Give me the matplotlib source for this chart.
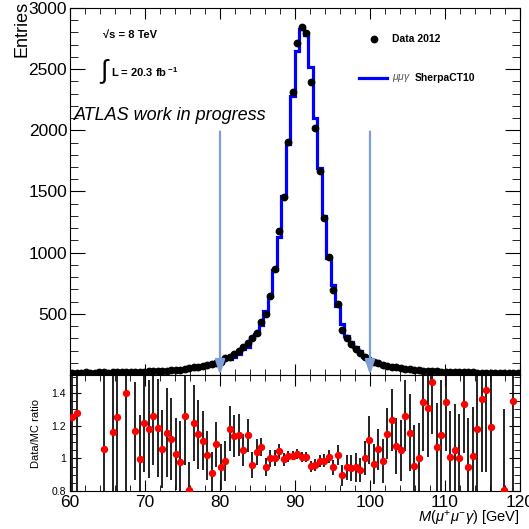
import numpy as np
import matplotlib
matplotlib.use('Agg')
import matplotlib.pyplot as plt
from matplotlib.ticker import MultipleLocator

plt.rcParams['font.family'] = ['Liberation Sans', 'DejaVu Sans']
plt.rcParams['mathtext.fontset'] = 'custom'
plt.rcParams['mathtext.rm'] = 'Liberation Sans'
plt.rcParams['mathtext.it'] = 'Liberation Sans:italic'
plt.rcParams['mathtext.bf'] = 'Liberation Sans:bold'

# 100 bins of 0.6 GeV between 60 and 120 GeV
mass_lo, mass_hi, nbins = 60.0, 120.0, 100

data_2012 = [18, 20, 19, 21, 20, 19, 22, 21, 20, 22,
             23, 22, 25, 24, 27, 26, 28, 30, 29, 33,
             35, 34, 38, 40, 45, 50, 55, 62, 68, 74,
             80, 88, 95, 110, 135, 150, 170, 195, 225, 259,
             300, 346, 436, 499, 646, 864, 1180, 1458, 1908, 2317,
             2712, 2848, 2794, 2398, 2017, 1671, 1281, 968, 695, 578,
             370, 300, 255, 215, 180, 150, 123, 109, 95, 85,
             76, 68, 62, 56, 52, 47, 42, 39, 36, 34,
             31, 29, 27, 26, 25, 24, 23, 22, 21, 21,
             20, 20, 19, 19, 19, 18, 18, 18, 18, 18]

sherpa_mc = [15, 16, 19, 21, 20, 19, 22, 20, 20, 19,
             18, 22, 18, 24, 23, 26, 23, 25, 23, 28,
             33, 29, 34, 39, 46, 40, 68, 51, 59, 67,
             78, 96, 88, 116, 137, 127, 150, 171, 214, 227,
             313, 333, 409, 526, 646, 861, 1131, 1465, 1885, 2278,
             2646, 2831, 2777, 2521, 2103, 1696, 1300, 958, 735, 567,
             413, 317, 272, 228, 194, 149, 111, 113, 90, 86,
             66, 55, 58, 53, 41, 41, 44, 39, 27, 26,
             21, 27, 24, 19, 25, 23, 23, 17, 22, 21,
             17, 15, 13, 16, 19, 18, 22, 18, 13, 18]

nan = np.nan
ratio = [1.25, 1.28, nan, nan, nan, nan, nan, 1.055, nan, 1.16,
         1.25, nan, 1.40, nan, 1.17, 0.994, 1.218, 1.178, 1.258, 1.188,
         1.056, 1.158, 1.117, 1.024, 0.976, 1.26, 0.805, 1.216, 1.147, 1.107,
         1.02, 0.913, 1.085, 0.949, 0.984, 1.182, 1.137, 1.143, 1.052, 1.141,
         0.959, 1.04, 1.067, 0.949, 1.0, 1.003, 1.043, 0.995, 1.012, 1.017,
         1.025, 1.006, 1.006, 0.951, 0.959, 0.985, 0.985, 1.01, 0.945, 1.02,
         0.895, 0.945, 0.939, 0.945, 0.929, 1.004, 1.111, 0.965, 1.056, 0.985,
         1.152, 1.232, 1.076, 1.05, 1.262, 1.158, 0.951, 1.004, 1.343, 1.307,
         1.47, 1.067, 1.141, 1.343, 1.01, 1.05, 1.0, 1.333, 0.949, 1.014,
         1.182, 1.364, 1.418, 1.192, nan, nan, 0.805, nan, 1.349, nan]

ratio_err = [0.7, 0.7, 0, 0, 0, 0, 0, 0.7, 0, 0.7,
             0.7, 0, 0.7, 0, 0.3, 0.27, 0.3, 0.3, 0.3, 0.3,
             0.24, 0.27, 0.25, 0.22, 0.25, 0.3, 0.17, 0.23, 0.21, 0.18,
             0.15, 0.126, 0.14, 0.14, 0.12, 0.14, 0.126, 0.126, 0.1, 0.1,
             0.08, 0.08, 0.055, 0.055, 0.05, 0.05, 0.045, 0.04, 0.035, 0.03,
             0.03, 0.03, 0.03, 0.035, 0.035, 0.035, 0.04, 0.04, 0.045, 0.06,
             0.065, 0.075, 0.08, 0.09, 0.075, 0.105, 0.146, 0.12, 0.126, 0.136,
             0.157, 0.19, 0.17, 0.187, 0.217, 0.237, 0.25, 0.21, 0.3, 0.3,
             0.32, 0.27, 0.34, 0.3, 0.28, 0.28, 0.27, 0.3, 0.3, 0.3,
             0.4, 0.45, 0.5, 0.5, 0, 0, 0.5, 0, 0.6, 0]

cut_lo, cut_hi = 80, 100

edges = np.linspace(mass_lo, mass_hi, nbins + 1)
centers = 0.5 * (edges[1:] + edges[:-1])
data_2012 = np.array(data_2012, float)
sherpa_mc = np.array(sherpa_mc, float)
ratio = np.array(ratio, float)
ratio_err = np.array(ratio_err, float)

fig = plt.figure(figsize=(5.29, 5.29), dpi=100)
ax = fig.add_axes([0.1323, 0.2911, 0.8507, 0.6938])
ax2 = fig.add_axes([0.1323, 0.0718, 0.8507, 0.2193], sharex=ax)

# ---- main panel
ax.stairs(sherpa_mc, edges, color='#0000ff', lw=2.3, baseline=None, zorder=2)
ax.plot(centers, data_2012, 'o', color='black', ms=4.6, zorder=3)

arrow_col = '#7f9fd6'
for xc in (cut_lo, cut_hi):
    ax.annotate('', xy=(xc, 0), xytext=(xc, 1990),
                arrowprops=dict(arrowstyle='-|>,head_width=0.3,head_length=0.9',
                                color=arrow_col, lw=1.6, shrinkA=0, shrinkB=0),
                zorder=4)

ax.set_xlim(mass_lo, mass_hi)
ax.set_ylim(0, 3000)
ax.yaxis.set_minor_locator(MultipleLocator(100))
ax.xaxis.set_major_locator(MultipleLocator(10))
ax.xaxis.set_minor_locator(MultipleLocator(2))
ax.set_yticks([500, 1000, 1500, 2000, 2500, 3000])
ax.tick_params(axis='both', which='both', direction='in', top=True, right=True)
ax.tick_params(axis='y', which='major', length=11, labelsize=12.5, pad=2)
ax.tick_params(axis='y', which='minor', length=6)
ax.tick_params(axis='x', which='major', length=8, labelbottom=False)
ax.tick_params(axis='x', which='minor', length=4)
fig.text(21.5 / 529, 1 - 1 / 529, 'Entries', rotation=90, fontsize=13,
         ha='center', va='top')

ax.text(0.073, 0.926, '\u221as = 8 TeV', transform=ax.transAxes,
        fontsize=8, fontweight='bold', va='center')
ax.text(0.064, 0.826, r'$\int$', transform=ax.transAxes, fontsize=19, va='center')
ax.text(0.091, 0.826, r'L = 20.3 fb$^{\bf -1}$', transform=ax.transAxes,
        fontsize=8, fontweight='bold', va='center')
ax.text(0.008, 0.708, 'ATLAS work in progress', transform=ax.transAxes,
        fontsize=13, style='italic', va='center')

# legend drawn by hand in ROOT style
ax.plot([0.675], [0.915], 'o', color='black', ms=4.6, transform=ax.transAxes)
ax.text(0.715, 0.915, 'Data 2012', transform=ax.transAxes, fontsize=7.5,
        fontweight='bold', va='center')
ax.plot([0.643, 0.705], [0.81, 0.81], color='#0000ff', lw=2.3, transform=ax.transAxes)
ax.text(0.715, 0.808, r'$\mu\mu\gamma$', transform=ax.transAxes, fontsize=7.5,
        color='#555555', va='center')
ax.text(0.765, 0.81, 'SherpaCT10', transform=ax.transAxes, fontsize=7.5,
        fontweight='bold', va='center')

# ---- ratio panel
ok = ~np.isnan(ratio)
ax2.vlines(centers[ok], ratio[ok] - ratio_err[ok], ratio[ok] + ratio_err[ok],
           color='#111111', lw=1.3, zorder=2)
ax2.plot(centers[ok], ratio[ok], 'o', color='#ff0000', ms=4.3, zorder=3)
ax2.set_ylim(0.8, 1.51)
ax2.set_yticks([0.8, 1.0, 1.2, 1.4])
ax2.set_yticklabels(['0.8', '1', '1.2', '1.4'])
ax2.yaxis.set_minor_locator(MultipleLocator(0.05))
ax2.tick_params(axis='both', which='both', direction='in', top=True, right=True)
ax2.tick_params(axis='y', which='major', length=8, labelsize=7.5, pad=3)
ax2.tick_params(axis='y', which='minor', length=4)
ax2.tick_params(axis='x', which='major', length=8, labelsize=12.5, pad=3)
ax2.tick_params(axis='x', which='minor', length=4)
ax2.set_ylabel('Data/MC ratio', fontsize=8, labelpad=7)
ax2.set_xlabel(r'$M(\mu^{+}\mu^{-}\gamma)$ [GeV]', fontsize=10.5, loc='right', labelpad=-1)

fig.savefig('out.png', dpi=100)
